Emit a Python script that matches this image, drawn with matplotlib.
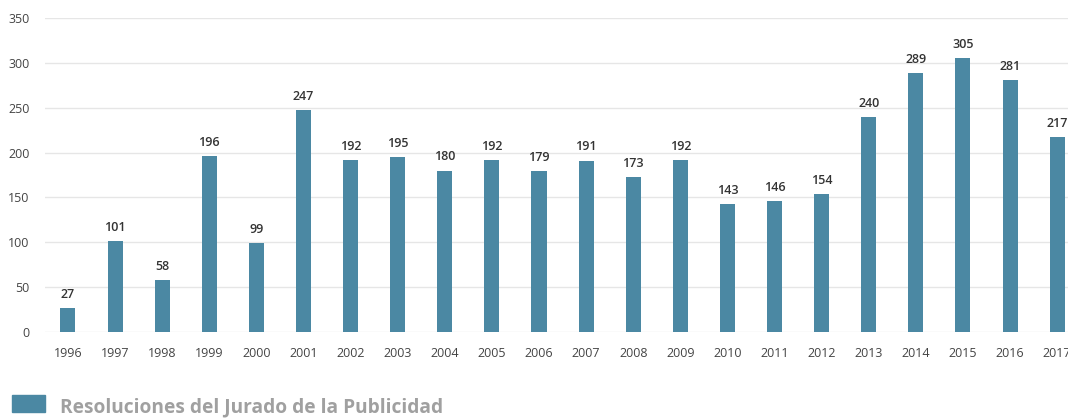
import matplotlib
matplotlib.use('Agg')
import matplotlib.pyplot as plt
from matplotlib.patches import Rectangle

plt.rcParams['font.family'] = ['Open Sans', 'DejaVu Sans']

# resoluciones por año
years = ['1996', '1997', '1998', '1999', '2000', '2001', '2002', '2003', '2004', '2005', '2006',
         '2007', '2008', '2009', '2010', '2011', '2012', '2013', '2014', '2015', '2016', '2017']
values = [27, 101, 58, 196, 99, 247, 192, 195, 180, 192, 179,
          191, 173, 192, 143, 146, 154, 240, 289, 305, 281, 217]
bar_color = '#4b88a3'

fig = plt.figure(figsize=(10.68, 4.19), dpi=100)
ax = fig.add_axes([0.042, 0.2076, 0.958, 0.7494])

x = range(len(years))
ax.bar(x, values, width=0.32, color=bar_color, zorder=3)
for i, v in zip(x, values):
    ax.text(i, v + 8, str(v), ha='center', va='bottom', fontsize=9,
            color='#333333', fontweight='semibold')

ax.set_xlim(-0.49, 21.23)
ax.set_ylim(0, 350)
ax.set_yticks(range(0, 351, 50))
ax.set_xticks(list(x))
ax.set_xticklabels(years)
ax.grid(axis='y', color='#e6e6e6', linewidth=1, zorder=0)
ax.tick_params(axis='both', length=0, labelsize=9, labelcolor='#444444')
ax.tick_params(axis='x', pad=11)
ax.tick_params(axis='y', pad=11)
for s in ax.spines.values():
    s.set_visible(False)

# leyenda
fig.patches.append(Rectangle((12 / 1068, 1 - 412 / 419), 33 / 1068, 17 / 419,
                             transform=fig.transFigure, color=bar_color))
fig.text(60 / 1068, 1 - 412 / 419, 'Resoluciones del Jurado de la Publicidad',
         fontsize=13.8, fontweight='bold', color='#a0a0a0', va='baseline')

fig.savefig('out.png', dpi=100)
